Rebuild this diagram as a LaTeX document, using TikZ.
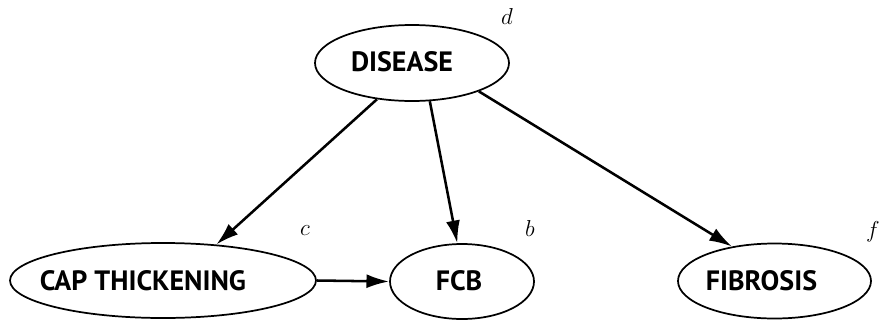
\documentclass[tikz,border=0pt]{standalone}
\usepackage{fontspec}
\setmainfont{PT Sans}
\usetikzlibrary{shapes.geometric,arrows.meta}
\begin{document}
\begin{tikzpicture}[x=0.75pt,y=-0.75pt,
  nd/.style={ellipse,draw,line width=1.3pt,inner sep=0pt,minimum height=56.25pt},
  tx/.style={inner sep=0pt,font=\fontsize{21}{24}\selectfont\bfseries},
  arr/.style={line width=1.9pt,-{Latex[length=17pt,width=10.5pt]}},
  lab/.style={inner sep=0pt,font=\fontsize{18}{20}\selectfont}]
\useasboundingbox (0,0) rectangle (881,325);
\node[nd,minimum width=145.5pt,minimum height=57pt] (dis) at (412,63) {};
\node[nd,minimum width=229.5pt] (cap) at (163,280.5) {};
\node[nd,minimum width=108pt] (fcb) at (462,281.5) {};
\node[nd,minimum width=144.75pt] (fib) at (774.5,281) {};
\node[tx] (tdis) at (402,62) {DISEASE};
\node[tx] (tcap) at (143,281) {CAP THICKENING};
\node[tx] (tfcb) at (459,281) {FCB};
\node[tx] (tfib) at (761.5,281) {FIBROSIS};
\node[lab] (ld) at (507,16) {$d$};
\node[lab] (lc) at (305,231) {$c$};
\node[lab] (lb) at (530,228) {$b$};
\node[lab] (lf) at (873,232) {$f$};
\draw[arr] (dis.{-134}) -- (cap.{34.8});
\draw[arr] (dis.{-65.9}) -- (fcb.{97.6});
\draw[arr] (dis.{-23.3}) -- (fib.{141.5});
\draw[arr] (cap.east) -- (fcb.west);
\end{tikzpicture}
\end{document}
